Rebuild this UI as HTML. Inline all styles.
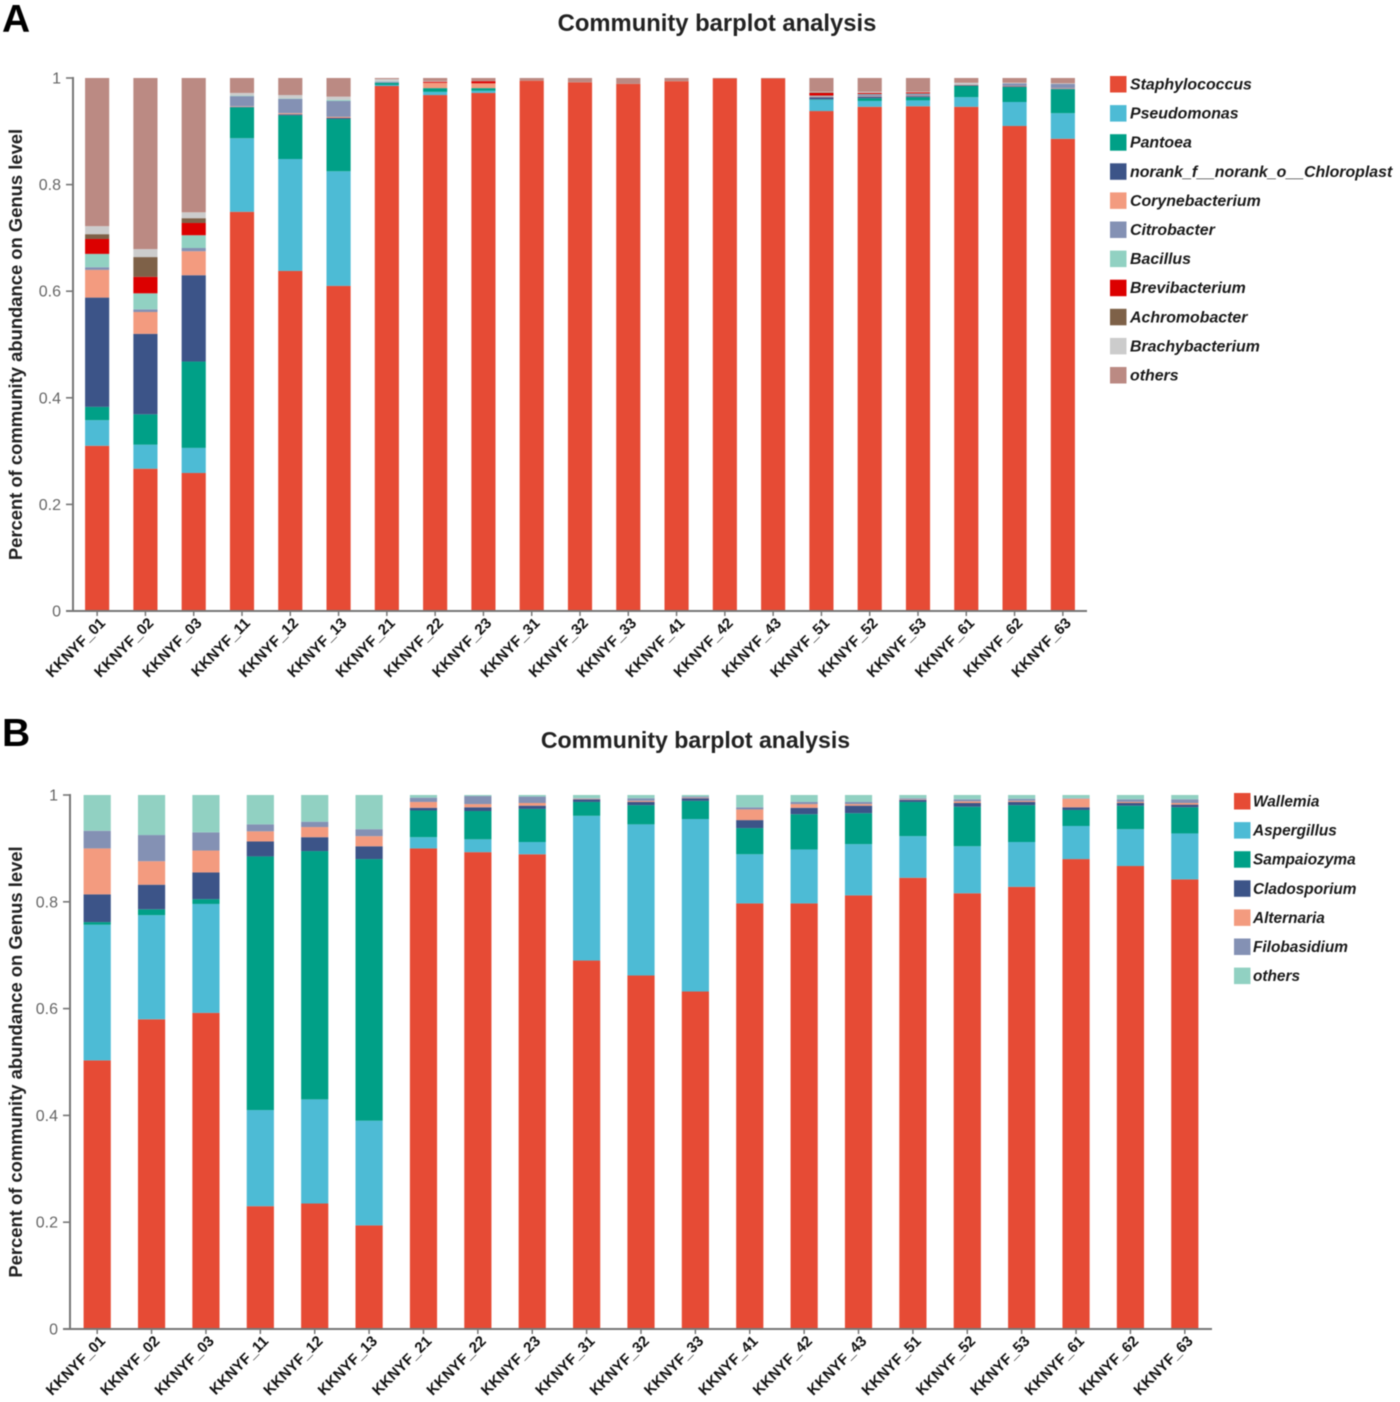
<!DOCTYPE html>
<html>
<head>
<meta charset="utf-8">
<title>Community barplot analysis</title>
<style>
html,body{margin:0;padding:0;background:#fff;}
body{width:1400px;height:1402px;overflow:hidden;}
svg{display:block;filter:blur(0.6px);font-family:"Liberation Sans",sans-serif;}
</style>
</head>
<body>
<svg id="figure" xmlns="http://www.w3.org/2000/svg" width="1400" height="1402" viewBox="0 0 1400 1402"></svg>
<script>
const samplesA = ["KKNYF_01","KKNYF_02","KKNYF_03","KKNYF_11","KKNYF_12","KKNYF_13","KKNYF_21","KKNYF_22","KKNYF_23","KKNYF_31","KKNYF_32","KKNYF_33","KKNYF_41","KKNYF_42","KKNYF_43","KKNYF_51","KKNYF_52","KKNYF_53","KKNYF_61","KKNYF_62","KKNYF_63"];
const samplesB = samplesA;
const yTicks = [0, 0.2, 0.4, 0.6, 0.8, 1];

const namesA = ["Staphylococcus","Pseudomonas","Pantoea","norank_f__norank_o__Chloroplast","Corynebacterium","Citrobacter","Bacillus","Brevibacterium","Achromobacter","Brachybacterium","others"];
const colorsA = ["#e64b35","#4dbbd5","#00a087","#3c5488","#f39b7f","#8491b4","#91d1c2","#dc0000","#7e6148","#cccccc","#bb8a83"];
const staphylococcus = [.31,.267,.259,.749,.638,.61,.985,.968,.972,.995,.992,.989,.994,.999,.999,.938,.946,.947,.946,.91,.886];
const pseudomonas = [.048,.045,.047,.138,.21,.215,.002,.006,.004,0,0,0,0,0,0,.021,.011,.011,.018,.045,.048];
const pantoea = [.025,.057,.162,.058,.082,.098,.004,.007,.005,0,0,0,0,0,0,.001,.005,.006,.021,.028,.045];
const chloroplast = [.205,.151,.162,.001,.002,.002,0,0,0,0,0,0,0,0,0,.004,.003,.002,.001,.001,.001];
const corynebacterium = [.052,.041,.045,.001,.002,.002,0,.01,.009,0,0,0,0,0,0,.001,.001,.001,.001,.001,.001];
const citrobacter = [.005,.005,.006,.019,.027,.03,.002,0,0,0,0,0,0,0,0,.001,.003,.003,.001,.005,.008];
const bacillus = [.025,.03,.024,.001,.001,.002,.001,0,0,0,0,0,0,0,0,.001,.001,.001,0,0,0];
const brevibacterium = [.028,.031,.023,0,0,0,0,.002,.004,0,0,0,0,0,0,.005,.002,.002,0,0,0];
const achromobacter = [.009,.037,.009,0,0,0,0,0,0,0,0,0,0,0,0,.001,0,0,0,0,0];
const brachybacterium = [.015,.015,.011,.005,.006,.006,.004,.001,0,0,0,0,0,0,0,.001,.002,.001,.003,.001,.001];
const othersA = [.278,.321,.252,.028,.032,.035,.002,.006,.006,.005,.008,.011,.006,.001,.001,.026,.026,.026,.009,.009,.01];
const seriesA = [staphylococcus,pseudomonas,pantoea,chloroplast,corynebacterium,citrobacter,bacillus,brevibacterium,achromobacter,brachybacterium,othersA];

const namesB = ["Wallemia","Aspergillus","Sampaiozyma","Cladosporium","Alternaria","Filobasidium","others"];
const colorsB = ["#e64b35","#4dbbd5","#00a087","#3c5488","#f39b7f","#8491b4","#91d1c2"];
const wallemia = [.503,.58,.592,.23,.235,.194,.9,.893,.889,.69,.662,.632,.797,.797,.812,.845,.816,.828,.88,.867,.842];
const aspergillus = [.254,.195,.204,.18,.195,.196,.021,.024,.023,.271,.283,.323,.092,.101,.096,.078,.088,.084,.062,.069,.086];
const sampaiozyma = [.005,.011,.009,.475,.465,.49,.05,.053,.062,.026,.036,.034,.049,.066,.058,.064,.074,.069,.03,.044,.049];
const cladosporium = [.052,.046,.05,.028,.026,.024,.005,.007,.006,.005,.006,.005,.015,.012,.014,.004,.007,.006,.005,.005,.005];
const alternaria = [.086,.044,.041,.019,.019,.019,.011,.006,.005,.001,.002,.001,.02,.007,.003,.001,.003,.002,.016,.002,.003];
const filobasidium = [.033,.049,.034,.013,.01,.013,.008,.015,.012,.001,.005,.002,.004,.004,.004,.002,.004,.004,.001,.005,.007];
const othersB = [.067,.075,.07,.055,.05,.064,.005,.002,.003,.006,.006,.003,.023,.013,.013,.006,.008,.007,.006,.008,.008];
const seriesB = [wallemia,aspergillus,sampaiozyma,cladosporium,alternaria,filobasidium,othersB];

const SVG_NS = "http://www.w3.org/2000/svg";
const root = document.getElementById("figure");

function make(tag, attrs, parent, text) {
  const el = document.createElementNS(SVG_NS, tag);
  for (const k in attrs) el.setAttribute(k, attrs[k]);
  if (text !== undefined) el.textContent = text;
  parent.appendChild(el);
  return el;
}

function drawChart(cfg) {
  const group = make("g", {}, root);
  
  

  const yScale = v => cfg.bottom - v * (cfg.bottom - cfg.top);
  const step = (cfg.right - cfg.left) / cfg.samples.length;
  const xScale = i => cfg.left + step * (i + 0.5);
  const barWidth = step * 0.5;

  const letter = make("text", {x: cfg.letterX, y: cfg.letterY, "font-size": 39, "font-weight": "bold", fill: "#000"}, group, cfg.letter);
  
  

  const title = make("text", {x: cfg.titleX, y: cfg.titleY, "font-size": cfg.titleSize, "font-weight": "bold", "text-anchor": "middle", fill: "#222"}, group, "Community barplot analysis");
  
  

  const yMid = (cfg.top + cfg.bottom) / 2;
  const yTitle = make("text", {transform: "translate(" + cfg.yTitleX + "," + yMid + ") rotate(-90)", "font-size": 18.4, "font-weight": "bold", "text-anchor": "middle", fill: "#222"}, group, "Percent of community abundance on Genus level");
  
  

  cfg.samples.forEach((sample, i) => {
    let cum = 0;
    cfg.series.forEach((values, s) => {
      const v = values[i];
      if (v > 0) {
        const bar = make("rect", {x: xScale(i) - barWidth / 2, y: yScale(cum + v), width: barWidth, height: yScale(cum) - yScale(cum + v), fill: cfg.colors[s]}, group);
        
        
      }
      cum += v;
    });
    const tick = make("line", {x1: xScale(i), x2: xScale(i), y1: cfg.bottom, y2: cfg.bottom + 5, stroke: "#777", "stroke-width": 1.5}, group);
    
    
    const tx = xScale(i) + cfg.labelDx;
    const ty = cfg.bottom + cfg.labelDy;
    const label = make("text", {transform: "translate(" + tx + "," + ty + ") rotate(-45)", "font-size": 15, "font-weight": "bold", "text-anchor": "end", fill: "#111"}, group, sample);
    
    
  });

  const yAxis = make("line", {x1: cfg.left, x2: cfg.left, y1: cfg.top - 1, y2: cfg.bottom + 1, stroke: "#777", "stroke-width": 2}, group);
  
  
  const xAxis = make("line", {x1: cfg.left - 7, x2: cfg.right, y1: cfg.bottom, y2: cfg.bottom, stroke: "#777", "stroke-width": 2}, group);
  
  

  yTicks.forEach(t => {
    const tick = make("line", {x1: cfg.left - 7, x2: cfg.left, y1: yScale(t), y2: yScale(t), stroke: "#777", "stroke-width": 1.6}, group);
    
    
    const label = make("text", {x: cfg.left - 12, y: yScale(t) + 5.5, "font-size": 16, "text-anchor": "end", fill: "#666"}, group, String(t));
    
    
  });

  cfg.names.forEach((name, i) => {
    const rowY = cfg.legendY + i * 29.1;
    const swatch = make("rect", {x: cfg.legendX, y: rowY - 8, width: 16.5, height: 16.5, fill: cfg.colors[i]}, group);
    
    
    const entry = make("text", {x: cfg.legendX + cfg.legendGap, y: rowY + 5.5, "font-size": cfg.legendSize, "font-weight": "bold", "font-style": "italic", fill: "#1a1a1a"}, group, name);
    
    
  });
}

drawChart({id: "genus-a", letter: "A", letterX: 2, letterY: 32, titleX: 717, titleY: 31, titleSize: 23.8, yTitleX: 22,
  left: 73, right: 1087, top: 78, bottom: 611, labelDx: 9, labelDy: 13,
  samples: samplesA, series: seriesA, names: namesA, colors: colorsA, legendX: 1110, legendY: 84, legendGap: 20, legendSize: 15.9});

drawChart({id: "genus-b", letter: "B", letterX: 2, letterY: 746, titleX: 695.5, titleY: 748, titleSize: 23.1, yTitleX: 22,
  left: 70, right: 1212, top: 795, bottom: 1329, labelDx: 9, labelDy: 13,
  samples: samplesB, series: seriesB, names: namesB, colors: colorsB, legendX: 1234, legendY: 801, legendGap: 19, legendSize: 15.4});
</script>
</body>
</html>
